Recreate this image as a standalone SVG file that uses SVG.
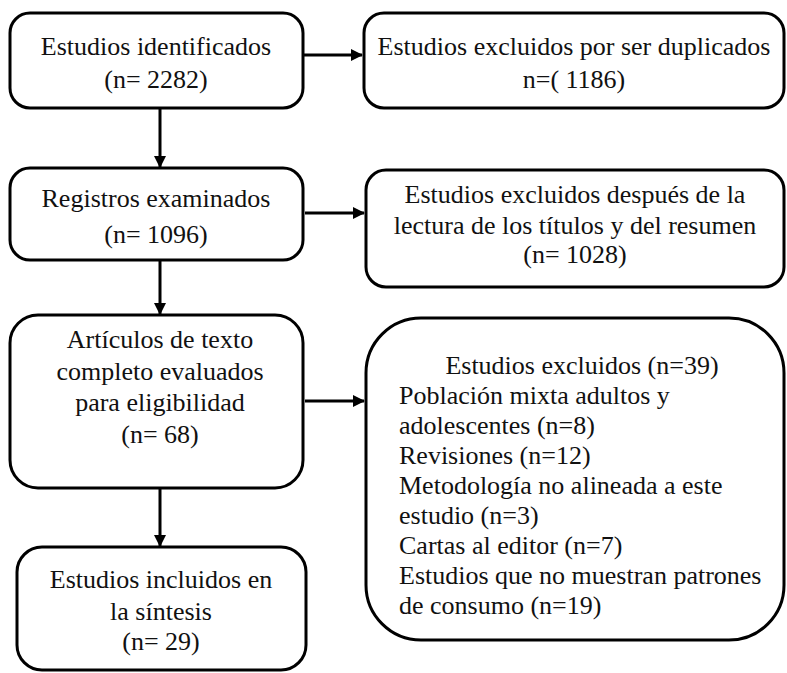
<svg xmlns="http://www.w3.org/2000/svg" width="787" height="673" viewBox="0 0 787 673">
<style>
.box{fill:#fff;stroke:#000;stroke-width:3}
.t{font-family:'Liberation Serif','Times New Roman',Tinos,'DejaVu Serif',serif;font-size:26px;fill:#111}
.c{text-anchor:middle}
.ln{stroke:#000;stroke-width:3;fill:none}
</style>
<defs>
<marker id="ah" markerWidth="12" markerHeight="12" refX="11" refY="6" orient="auto" markerUnits="userSpaceOnUse">
<path d="M0,0 L12,6 L0,12 z" fill="#000"/>
</marker>
</defs>
<rect width="787" height="673" fill="#fff"/>
<g id="connectors">
<line class="ln" x1="303" y1="55" x2="362" y2="55" marker-end="url(#ah)"/>
<line class="ln" x1="160" y1="108" x2="160" y2="167" marker-end="url(#ah)"/>
<line class="ln" x1="305" y1="213" x2="364" y2="213" marker-end="url(#ah)"/>
<line class="ln" x1="160" y1="260" x2="160" y2="314" marker-end="url(#ah)"/>
<line class="ln" x1="305" y1="401" x2="364" y2="401" marker-end="url(#ah)"/>
<line class="ln" x1="160" y1="488" x2="160" y2="546" marker-end="url(#ah)"/>
</g>
<g id="n1">
<rect class="box" x="10" y="13" width="293" height="95" rx="20"/>
<text class="t c" x="156" y="55">Estudios identificados</text>
<text class="t c" x="156" y="88">(n= 2282)</text>
</g>
<g id="n2">
<rect class="box" x="364" y="13" width="420" height="95" rx="20"/>
<text class="t c" x="574" y="55">Estudios excluidos por ser duplicados</text>
<text class="t c" x="574" y="88">n=( 1186)</text>
</g>
<g id="n3">
<rect class="box" x="10" y="168" width="293" height="92" rx="20"/>
<text class="t c" x="156" y="207">Registros examinados</text>
<text class="t c" x="156" y="243">(n= 1096)</text>
</g>
<g id="n4">
<rect class="box" x="366" y="170" width="418" height="117" rx="20"/>
<text class="t c" x="575" y="203">Estudios excluidos después de la</text>
<text class="t c" x="575" y="234">lectura de los títulos y del resumen</text>
<text class="t c" x="575" y="263">(n= 1028)</text>
</g>
<g id="n5">
<rect class="box" x="10" y="315" width="293" height="173" rx="28"/>
<text class="t c" x="160" y="348">Artículos de texto</text>
<text class="t c" x="160" y="380">completo evaluados</text>
<text class="t c" x="160" y="411">para eligibilidad</text>
<text class="t c" x="160" y="443">(n= 68)</text>
</g>
<g id="n6">
<rect class="box" x="366" y="318" width="418" height="322" rx="55"/>
<text class="t c" x="582" y="374">Estudios excluidos (n=39)</text>
<text class="t" x="399" y="404">Población mixta adultos y</text>
<text class="t" x="399" y="434">adolescentes (n=8)</text>
<text class="t" x="399" y="464">Revisiones (n=12)</text>
<text class="t" x="399" y="494">Metodología no alineada a este</text>
<text class="t" x="399" y="524">estudio (n=3)</text>
<text class="t" x="399" y="554">Cartas al editor (n=7)</text>
<text class="t" x="399" y="584">Estudios que no muestran patrones</text>
<text class="t" x="399" y="614">de consumo (n=19)</text>
</g>
<g id="n7">
<rect class="box" x="17" y="547" width="289" height="123" rx="25"/>
<text class="t c" x="161" y="588">Estudios incluidos en</text>
<text class="t c" x="161" y="620">la síntesis</text>
<text class="t c" x="161" y="650">(n= 29)</text>
</g>
</svg>
